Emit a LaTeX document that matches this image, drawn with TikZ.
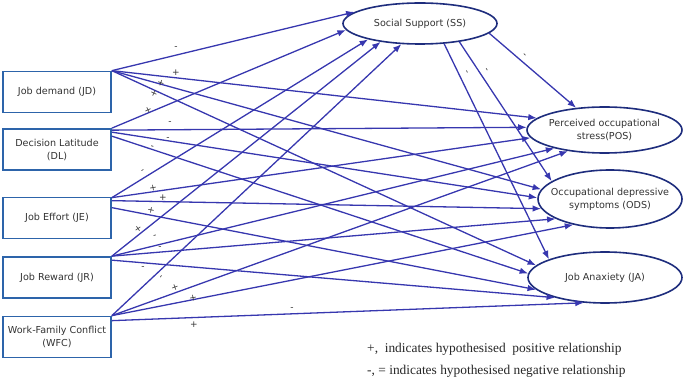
\documentclass[tikz,border=0pt]{standalone}
\usepackage{fontspec}
\setmainfont{DejaVu Sans}
\newfontfamily\legendfont{Liberation Serif}
\usetikzlibrary{arrows.meta,shapes.geometric}
\definecolor{arrowblue}{RGB}{55,55,175}
\definecolor{ellblue}{RGB}{30,45,125}
\definecolor{boxblue}{RGB}{45,100,170}
\definecolor{txtgray}{RGB}{50,50,50}
\begin{document}
\begin{tikzpicture}[x=1pt,y=-1pt,
  varbox/.style={draw=boxblue, line width=1.7pt, minimum width=108pt, minimum height=41pt,
    inner sep=1pt, align=center, font=\fontsize{9.6}{13}\selectfont, text=txtgray},
  latent/.style={ellipse, draw=ellblue, line width=1.6pt, inner sep=-16pt, align=center,
    font=\fontsize{9.6}{13}\selectfont, text=txtgray},
  conn/.style={draw=arrowblue, line width=1.3pt, -{Latex[length=8.5pt,width=6.5pt]}},
  sign/.style={font=\fontsize{9}{9}\selectfont, text=txtgray, inner sep=0pt},
  legend/.style={anchor=west, inner sep=0pt, font=\legendfont\fontsize{13.4}{15}\selectfont, text=black!85}
]
\useasboundingbox (0,0) rectangle (685,379);

% exogenous boxes
\node[varbox] (JD)  at (57,92)    {Job demand (JD)};
\node[varbox] (DL)  at (57,149.5) {Decision Latitude\\(DL)};
\node[varbox] (JE)  at (57,218)   {Job Effort (JE)};
\node[varbox] (JR)  at (57,277.5) {Job Reward (JR)};
\node[varbox] (WFC) at (57,337)   {Work-Family Conflict\\(WFC)};

% latent ellipses
\node[latent, minimum width=154pt, minimum height=41pt] (SS)  at (420,23.5)  {Social Support (SS)};
\node[latent, minimum width=155pt, minimum height=46pt] (POS) at (604.5,130)  {Perceived occupational\\stress(POS)};
\node[latent, minimum width=144pt, minimum height=58pt] (ODS) at (610,199)    {Occupational depressive\\symptoms (ODS)};
\node[latent, minimum width=154pt, minimum height=51pt] (JA)  at (605,277.5)  {Job Anaxiety (JA)};

% to SS
\draw[conn] (JD.north east) -- (SS.170);
\draw[conn] (DL.north east) -- (SS.185);
\draw[conn] ([yshift=-1pt]JE.north east) -- (SS.197);
\draw[conn] (JR.north east) -- (SS.205);
\draw[conn] (WFC.north east) -- (SS.228);
% to POS
\draw[conn] (JD.north east) -- (POS.170);
\draw[conn] ([yshift=-2pt]DL.north east) -- (POS.178);
\draw[conn] ([yshift=-1pt]JE.north east) -- (POS.186);
\draw[conn] (JR.north east) -- (POS.200);
\draw[conn] (WFC.north east) -- (POS.210);
% to ODS
\draw[conn] (JD.north east) -- (ODS.172);
\draw[conn] ([yshift=-4pt]DL.north east) -- (ODS.179);
\draw[conn] ([yshift=-4pt]JE.north east) -- (ODS.188);
\draw[conn] (JR.north east) -- (ODS.200);
\draw[conn] (WFC.north east) -- (ODS.215);
% to JA
\draw[conn] (JD.north east) -- (JA.170);
\draw[conn] ([yshift=-8pt]DL.north east) -- (JA.177);
\draw[conn] ([yshift=-11pt]JE.north east) -- (JA.190);
\draw[conn] ([yshift=-4pt]JR.north east) -- (JA.202);
\draw[conn] ([yshift=-5pt]WFC.north east) -- (JA.230);
% from SS
\draw[conn] (SS.352) -- (POS.142);
\draw[conn] (SS.335) -- (ODS.163);
\draw[conn] (SS.320) -- (JA.162);

% signs
\node[sign] (s1)  at (176,48)  {-};
\node[sign] (s2)  at (176,73)  {+};
\node[sign, rotate=-20] (s3)  at (161,83)  {+};
\node[sign, rotate=-25] (s4)  at (154,94)  {+};
\node[sign, rotate=25]  (s5)  at (148,110) {+};
\node[sign] (s6)  at (170,123) {-};
\node[sign] (s7)  at (168,139) {-};
\node[sign, rotate=-15] (s8)  at (152,148) {-};
\node[sign, rotate=30]  (s9)  at (143,171) {-};
\node[sign, rotate=10]  (s10) at (153,188) {+};
\node[sign] (s11) at (163,198) {+};
\node[sign, rotate=-10] (s12) at (151,210) {+};
\node[sign, rotate=35]  (s13) at (138,229) {+};
\node[sign, rotate=15]  (s14) at (155,237) {-};
\node[sign] (s15) at (160,248) {-};
\node[sign] (s16) at (143,268) {-};
\node[sign, rotate=55]  (s17) at (162,277) {-};
\node[sign, rotate=20]  (s18) at (175,288) {+};
\node[sign, rotate=10]  (s19) at (193,298) {+};
\node[sign] (s20) at (194,325) {+};
\node[sign] (s21) at (292,309) {-};
\node[sign, rotate=-65] (s22) at (466,72) {-};
\node[sign, rotate=-60] (s23) at (486,70) {-};
\node[sign, rotate=-45] (s24) at (524,56) {-};

% legend
\node[legend] (leg1) at (367,349) {+,\ \ indicates hypothesised\ \ positive relationship};
\node[legend] (leg2) at (367,371) {-, = indicates hypothesised negative relationship};
\end{tikzpicture}
\end{document}
